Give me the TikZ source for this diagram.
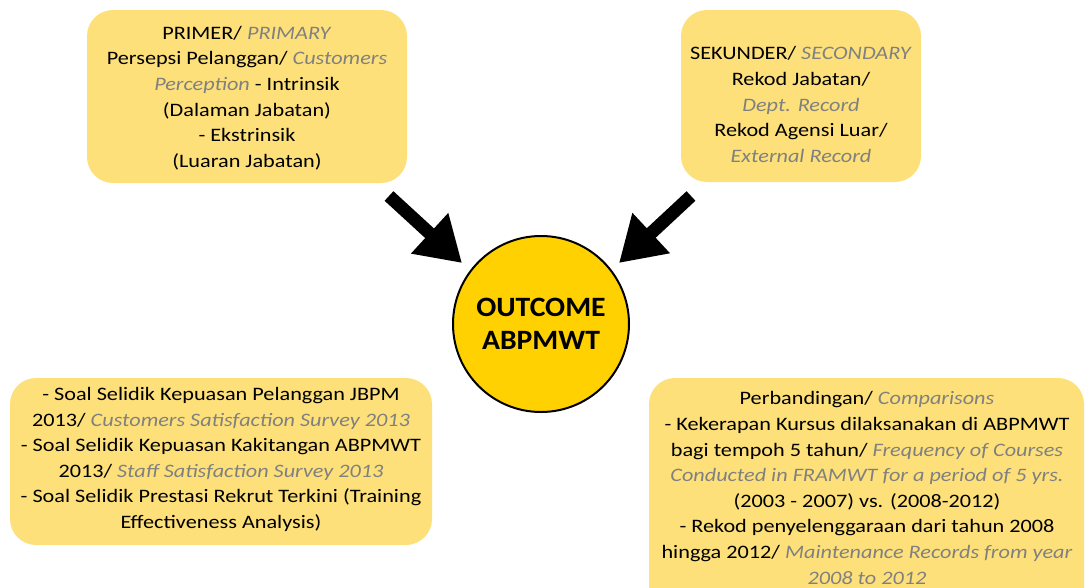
\documentclass[tikz,border=0pt]{standalone}
\usepackage{fontspec}
\setmainfont{Carlito}[FakeStretch=1.17]
\newfontfamily\circfont{Carlito}[FakeStretch=1.06]
\usetikzlibrary{arrows.meta}
\definecolor{boxfill}{RGB}{253,224,122}
\definecolor{circfill}{RGB}{255,209,0}
\definecolor{engray}{RGB}{128,128,128}
\newcommand\entext[1]{\textcolor{engray}{\textit{#1}}}
\tikzset{
  panel/.style={fill=boxfill, draw=none, rounded corners=26pt},
  paneltext/.style={align=center, inner sep=0pt, font=\fontsize{19}{25.6}\selectfont, text=black},
  bigarrow/.style={line width=13pt, -{Triangle[length=44pt, width=52pt]}},
}
\begin{document}
\begin{tikzpicture}[x=1pt, y=-1pt]
\useasboundingbox (0,0) rectangle (1085,587);
\clip (0,0) rectangle (1085,587);
% panels
\fill[panel] (87,10) rectangle (407,183);
\fill[panel] (681,10) rectangle (921,182);
\fill[panel] (10,378) rectangle (432,545);
\fill[panel] (649,378) rectangle (1084,620);
\node[paneltext] (t1) at (247,98) {PRIMER/ \entext{PRIMARY}\\
Persepsi Pelanggan/ \entext{Customers}\\
\entext{Perception} - Intrinsik\\
(Dalaman Jabatan)\\
- Ekstrinsik\\
(Luaran Jabatan)};
\node[paneltext] (t2) at (801,104.5) {SEKUNDER/ \entext{SECONDARY}\\
Rekod Jabatan/\\
\entext{Dept. Record}\\
Rekod Agensi Luar/\\
\entext{External Record}};
\node[paneltext] (t3) at (221,459.5) {- Soal Selidik Kepuasan Pelanggan JBPM\\
2013/ \entext{Customers Satisfaction Survey 2013}\\
- Soal Selidik Kepuasan Kakitangan ABPMWT\\
2013/ \entext{Staff Satisfaction Survey 2013}\\
- Soal Selidik Prestasi Rekrut Terkini (Training\\
Effectiveness Analysis)};
\node[paneltext] (t4) at (867,488) {Perbandingan/ \entext{Comparisons}\\
- Kekerapan Kursus dilaksanakan di ABPMWT\\
bagi tempoh 5 tahun/ \entext{Frequency of Courses}\\
\entext{Conducted in FRAMWT for a period of 5 yrs.}\\
(2003 - 2007) vs. (2008-2012)\\
- Rekod penyelenggaraan dari tahun 2008\\
hingga 2012/ \entext{Maintenance Records from year}\\
\entext{2008 to 2012}};
% centre circle
\node[circle, fill=circfill, draw=black, line width=2pt, minimum size=176pt, align=center,
      font=\circfont\fontsize{28}{33}\selectfont\bfseries, inner sep=0pt] (c) at (541,324) {OUTCOME\\ABPMWT};
% arrows
\coordinate (a1s) at (389,196);
\coordinate (a1e) at (462,263);
\coordinate (a2s) at (691,196);
\coordinate (a2e) at (619,263);
\draw[bigarrow] (a1s) -- (a1e);
\draw[bigarrow] (a2s) -- (a2e);
\end{tikzpicture}
\end{document}
